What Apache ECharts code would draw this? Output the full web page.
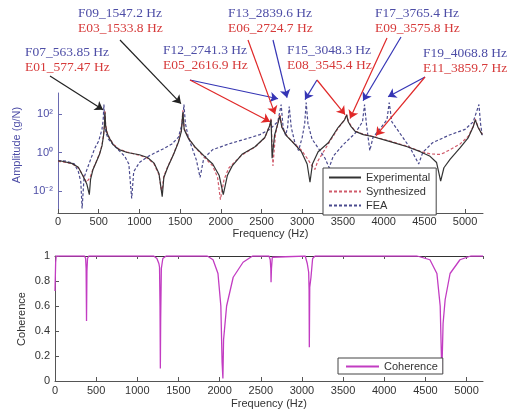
<!DOCTYPE html>
<html>
<head>
<meta charset="utf-8">
<script src="https://cdn.jsdelivr.net/npm/echarts@6/dist/echarts.min.js"></script>
<style>
html, body { margin: 0; padding: 0; background: #fff; }
#chart { width: 512px; height: 411px; }
</style>
</head>
<body>
<div id="chart"></div>
<script>
// measured FRF, amplitude in g/N
const expFreq = [0, 50, 170, 250, 310, 355, 385, 400, 430, 470,
  510, 540, 560, 570, 577, 585, 600, 630, 680, 750,
  850, 1000, 1100, 1180, 1240, 1280, 1300, 1350, 1420, 1480,
  1515, 1534, 1550, 1600, 1680, 1800, 1900, 1980, 2030, 2080,
  2140, 2260, 2420, 2540, 2600, 2617, 2630, 2660, 2700, 2725,
  2750, 2810, 2890, 2990, 3060, 3095, 3125, 3195, 3320, 3440,
  3520, 3545, 3565, 3576, 3600, 3650, 3750, 3860, 4080, 4290,
  4450, 4570, 4650, 4700, 4740, 4815, 4940, 5040, 5100, 5125,
  5160, 5210]
const expAmp = [0.36, 0.35, 0.27, 0.17, 0.056, 0.022, 0.0063, 0.04, 0.13, 0.32,
  0.8, 2.2, 7.9, 25, 126, 25, 11, 5.6, 2.5, 1.4,
  1.0, 0.76, 0.55, 0.28, 0.08, 0.005, 0.05, 0.18, 0.8, 3.5,
  12.6, 126, 16, 5.6, 2.0, 0.63, 0.25, 0.063, 0.0063, 0.063,
  0.2, 0.8, 2.0, 6.0, 25, 50, 0.5, 7.9, 32, 79,
  20, 7.1, 3.2, 1.1, 0.25, 0.028, 0.25, 1.1, 3.2, 20,
  50, 89, 40, 50, 22, 12.6, 8.5, 6.8, 3.7, 2.0,
  1.1, 0.63, 0.3, 0.032, 0.16, 0.44, 1.8, 6.0, 22, 50,
  20, 8.5]

// synthesized FRF
const synFreq = [0, 50, 170, 250, 310, 350, 372, 395, 430, 470,
  510, 540, 560, 570, 577, 585, 600, 630, 680, 750,
  850, 1000, 1100, 1180, 1240, 1275, 1300, 1350, 1420, 1480,
  1515, 1534, 1550, 1600, 1680, 1800, 1900, 1960, 1995, 2040,
  2100, 2260, 2420, 2540, 2600, 2617, 2640, 2670, 2700, 2725,
  2750, 2810, 2890, 2990, 3060, 3120, 3155, 3190, 3320, 3440,
  3520, 3545, 3565, 3576, 3600, 3650, 3750, 3850, 3860, 3870,
  4080, 4290, 4450, 4570, 4650, 4700, 4740, 4815, 4940, 5040,
  5100, 5125, 5160, 5210]
const synAmp = [0.34, 0.33, 0.26, 0.16, 0.06, 0.028, 0.032, 0.05, 0.14, 0.34,
  0.85, 2.4, 8.5, 28, 160, 28, 12, 6, 2.7, 1.5,
  1.05, 0.72, 0.5, 0.25, 0.07, 0.008, 0.06, 0.19, 0.85, 3.8,
  14, 160, 18, 6, 1.9, 0.55, 0.2, 0.05, 0.0035, 0.04,
  0.16, 0.75, 1.9, 5.8, 26, 63, 0.2, 8, 35, 100,
  22, 7.5, 3.3, 1.3, 0.5, 0.2, 0.13, 0.35, 2.8, 18,
  50, 100, 45, 56, 24, 13, 8.9, 7.2, 8, 7,
  3.9, 2.1, 1.15, 0.85, 0.8, 0.8, 0.95, 1.4, 2.8, 7,
  23, 56, 21, 9]

// FEA FRF
const feaFreq = [0, 100, 200, 250, 280, 296, 320, 380, 450, 500,
  540, 555, 564, 573, 590, 620, 680, 750, 820, 870,
  905, 930, 1000, 1100, 1200, 1300, 1400, 1480, 1530, 1547,
  1565, 1600, 1650, 1700, 1745, 1790, 1900, 2100, 2300, 2480,
  2600, 2700, 2741, 2765, 2795, 2820, 2840, 2865, 2910, 2955,
  3000, 3030, 3048, 3070, 3120, 3200, 3280, 3330, 3380, 3500,
  3650, 3740, 3765, 3790, 3830, 3870, 3950, 4040, 4068, 4100,
  4200, 4330, 4430, 4480, 4600, 4800, 5000, 5100, 5170, 5190,
  5210]
const feaAmp = [0.38, 0.35, 0.26, 0.1, 0.03, 0.0012, 0.05, 0.25, 1.6, 4.0,
  16, 50, 316, 40, 10, 5.0, 2.5, 1.26, 0.63, 0.25,
  0.004, 0.1, 0.3, 0.6, 1.0, 1.6, 2.8, 6.3, 40, 316,
  32, 6.3, 1.6, 0.4, 0.05, 0.5, 1.4, 2.8, 5.0, 8.5,
  16, 40, 316, 20, 7.9, 20, 250, 20, 3.2, 1.26,
  6.3, 32, 400, 32, 5.0, 1.6, 0.5, 0.16, 0.63, 2.5,
  10, 40, 316, 25, 1.26, 6.3, 16, 50, 400, 40,
  10, 1.6, 0.25, 1.0, 3.2, 7.9, 16, 40, 316, 32,
  7.9]

// coherence
const cohFreq = [0, 8, 15, 360, 372, 378, 383, 388, 395, 410,
  1200, 1238, 1262, 1270, 1276, 1280, 1284, 1292, 1310, 1350,
  1850, 1920, 1980, 2015, 2030, 2040, 2048, 2085, 2165, 2285, 2400,
  2600, 2615, 2622, 2625, 2630, 2640,
  3040, 3065, 3082, 3087, 3090, 3095, 3110, 3130, 3160,
  4400, 4555, 4640, 4680, 4692, 4700, 4715, 4740, 4800, 4920, 5050, 5200]
const cohVal = [0.72, 0.95, 1, 1, 0.98, 0.9, 0.48, 0.88, 0.98, 1,
  1, 0.98, 0.94, 0.91, 0.6, 0.1, 0.5, 0.9, 0.98, 1,
  1, 0.97, 0.86, 0.6, 0.15, 0.02, 0.33, 0.6, 0.83, 0.95, 1,
  1, 0.97, 0.9, 0.79, 0.9, 0.99,
  1, 0.94, 0.87, 0.73, 0.27, 0.75, 0.83, 0.98, 1,
  1, 0.97, 0.86, 0.6, 0.27, 0.06, 0.46, 0.65, 0.86, 0.97, 1, 1]

// mode labels: FEA / experimental
const feaLabels = ['F07_563.85 Hz', 'F09_1547.2 Hz', 'F12_2741.3 Hz', 'F13_2839.6 Hz', 'F15_3048.3 Hz', 'F17_3765.4 Hz', 'F19_4068.8 Hz']
const expLabels = ['E01_577.47 Hz', 'E03_1533.8 Hz', 'E05_2616.9 Hz', 'E06_2724.7 Hz', 'E08_3545.4 Hz', 'E09_3575.8 Hz', 'E11_3859.7 Hz']
// where each arrow points, [frequency, amplitude]
const feaTargets = [[553, 170], [1511, 350], [2703, 630], [2813, 720], [3034, 570], [3747, 500], [4054, 800]]
const expTargets = [[553, 170], [1511, 350], [2604, 40], [2666, 100], [3526, 94], [3587, 59], [3907, 7.6]]

const BLUE = '#4d4da6'
const RED = '#d63a3a'
const pair = (xs, ys) => xs.map((x, i) => [x, ys[i]])
const sup = { '-': '⁻', '0': '⁰', '1': '¹', '2': '²', '3': '³' }

// label boxes (left x, y of F line) and arrow start points
const labelPos = [[25, 52], [78, 13], [163, 50], [228, 13], [287, 50], [375, 13], [423, 53]]
const feaStart = [[50, 76], [120, 40], [190, 80], [273, 40], [317, 80], [401, 37], [425, 77]]
const expStart = [[50, 76], [120, 40], [190, 80], [248, 40], [317, 80], [387, 38], [425, 77]]

let graphics = []
labelPos.forEach((p, i) => {
  graphics.push({ type: 'text', left: p[0], top: p[1] - 7, style: { text: feaLabels[i], fill: BLUE, font: '13.5px "Liberation Serif"' } })
  graphics.push({ type: 'text', left: p[0], top: p[1] + 8, style: { text: expLabels[i], fill: RED, font: '13.5px "Liberation Serif"' } })
})
// y titles placed by hand (MATLAB centres them a bit off the plot middle)
graphics.push({ type: 'text', x: 17, y: 145, rotation: Math.PI / 2,
  style: { text: 'Amplitude (g/N)', fill: BLUE, font: '11px "Liberation Sans"', textAlign: 'center', textVerticalAlign: 'middle' } })
graphics.push({ type: 'text', x: 22, y: 319, rotation: Math.PI / 2,
  style: { text: 'Coherence', fill: '#333', font: '11px "Liberation Sans"', textAlign: 'center', textVerticalAlign: 'middle' } })

let arrows = []
feaTargets.forEach((t, i) => {
  if (i < 2) {
    arrows.push([{ x: feaStart[i][0], y: feaStart[i][1] }, { coord: t, lineStyle: { color: '#222' } }])
  } else {
    arrows.push([{ x: feaStart[i][0], y: feaStart[i][1] }, { coord: t, lineStyle: { color: '#3535b5' } }])
    arrows.push([{ x: expStart[i][0], y: expStart[i][1] }, { coord: expTargets[i], lineStyle: { color: '#e02828' } }])
  }
})

const axisText = { fontFamily: 'Liberation Sans', fontSize: 11, color: '#333' }
const plain = v => String(v)

let chart = echarts.init(document.getElementById('chart'))
chart.setOption({
  animation: false,
  textStyle: { fontFamily: 'Liberation Sans' },
  graphic: graphics,
  grid: [
    { left: 58, top: 93, width: 425, height: 120 },
    { left: 55, top: 256, width: 428, height: 125 },
  ],
  xAxis: [
    {
      gridIndex: 0, type: 'value', min: 0, max: 5220, interval: 500,
      name: 'Frequency (Hz)', nameLocation: 'middle', nameGap: 15, nameTextStyle: axisText,
      axisLine: { lineStyle: { color: '#555' } },
      axisTick: { inside: true, length: 4, lineStyle: { color: '#555' } },
      axisLabel: Object.assign({ showMaxLabel: false, margin: 3, formatter: plain }, axisText),
      splitLine: { show: false },
    },
    {
      gridIndex: 1, type: 'value', min: 0, max: 5200, interval: 500,
      name: 'Frequency (Hz)', nameLocation: 'middle', nameGap: 17, nameTextStyle: axisText,
      axisLine: { lineStyle: { color: '#555' } },
      axisTick: { inside: true, length: 4, lineStyle: { color: '#555' } },
      axisLabel: Object.assign({ showMaxLabel: false, margin: 4, formatter: plain }, axisText),
      splitLine: { show: false },
    },
    {
      gridIndex: 1, type: 'value', position: 'top', min: 0, max: 5200, interval: 500,
      axisLine: { lineStyle: { color: '#333' } },
      axisTick: { inside: true, length: 3, lineStyle: { color: '#555' } },
      axisLabel: { show: false },
      splitLine: { show: false },
    },
  ],
  yAxis: [
    {
      gridIndex: 0, type: 'log', logBase: 100, min: 0.0007, max: 1260,
      axisLine: { lineStyle: { color: '#6a6ab0' } },
      axisTick: { inside: true, length: 4, lineStyle: { color: '#6a6ab0' } },
      axisLabel: {
        showMinLabel: false, showMaxLabel: false, fontSize: 11, color: BLUE, margin: 5,
        formatter: v => '10' + String(Math.round(Math.log10(v))).split('').map(c => sup[c]).join(''),
      },
      splitLine: { show: false },
    },
    {
      gridIndex: 1, type: 'value', min: 0, max: 1, interval: 0.2,
      axisLine: { lineStyle: { color: '#555' } },
      axisTick: { inside: true, length: 4, lineStyle: { color: '#555' } },
      axisLabel: Object.assign({ margin: 5 }, axisText),
      splitLine: { show: false },
    },
  ],
  legend: [
    {
      data: ['Experimental', 'Synthesized', 'FEA'], orient: 'vertical', left: 323, top: 168,
      itemWidth: 32, itemHeight: 10, itemGap: 3, padding: [4, 6, 4, 5],
      borderColor: '#444', borderWidth: 1, borderRadius: 0, backgroundColor: '#fff',
      itemStyle: { opacity: 0 },
      selectedMode: false, textStyle: axisText,
    },
    {
      data: ['Coherence'], left: 338, top: 358,
      itemWidth: 33, itemHeight: 10, padding: [3, 5, 2, 7],
      borderColor: '#444', borderWidth: 1, borderRadius: 0, backgroundColor: '#fff',
      itemStyle: { opacity: 0 },
      selectedMode: false, textStyle: axisText,
    },
  ],
  series: [
    {
      name: 'FEA', type: 'line', xAxisIndex: 0, yAxisIndex: 0, data: pair(feaFreq, feaAmp),
      symbol: 'none', z: 2, color: '#4a4a8e',
      lineStyle: { color: '#4a4a8e', width: 1.2, type: [3, 2] },
    },
    {
      name: 'Synthesized', type: 'line', xAxisIndex: 0, yAxisIndex: 0, data: pair(synFreq, synAmp),
      symbol: 'none', z: 3, color: '#d05a6a',
      lineStyle: { color: '#d05a6a', width: 1.2, type: [3, 2] },
    },
    {
      name: 'Experimental', type: 'line', xAxisIndex: 0, yAxisIndex: 0, data: pair(expFreq, expAmp),
      symbol: 'none', z: 4, color: '#333',
      lineStyle: { color: '#333', width: 1.2 },
      markLine: {
        silent: true, symbol: ['none', 'arrow'], symbolSize: 8,
        label: { show: false },
        lineStyle: { width: 1.2, type: 'solid' },
        data: arrows,
      },
    },
    {
      name: 'Coherence', type: 'line', xAxisIndex: 1, yAxisIndex: 1, data: pair(cohFreq, cohVal),
      symbol: 'none', z: 3, color: '#c23cc2',
      lineStyle: { color: '#c23cc2', width: 1.3 },
    },
  ],
})
</script>
</body>
</html>
